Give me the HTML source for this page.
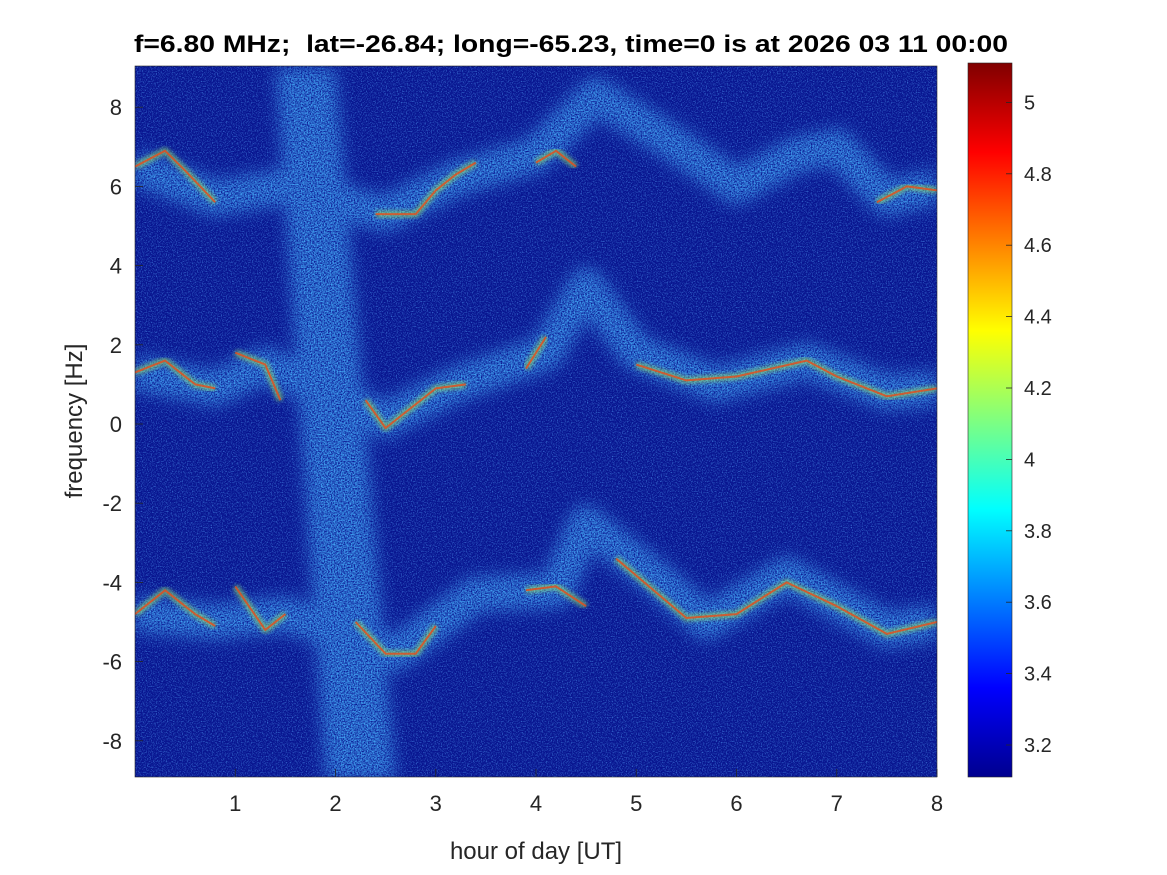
<!DOCTYPE html>
<html><head><meta charset="utf-8">
<style>
html,body{margin:0;padding:0;background:#fff;}
svg{display:block;font-family:"Liberation Sans",Arial,sans-serif;}
</style></head>
<body>
<svg id="chart" width="1167" height="875" viewBox="0 0 1167 875" xmlns="http://www.w3.org/2000/svg">
<defs>
<filter id="blur8" x="-20%" y="-20%" width="140%" height="140%">
<feGaussianBlur in="SourceGraphic" stdDeviation="8" result="b"/>
<feTurbulence type="fractalNoise" baseFrequency="0.7" numOctaves="2" seed="7" result="t"/>
<feColorMatrix in="t" values="0 0 0 0 1  0 0 0 0 1  0 0 0 0 1  0 0 0 2.2 -0.6" result="tm"/>
<feComposite in="b" in2="tm" operator="in"/>
</filter>
<filter id="blur3"><feGaussianBlur stdDeviation="2"/></filter>
<filter id="noise" x="0" y="0" width="100%" height="100%">
<feTurbulence type="fractalNoise" baseFrequency="0.8" numOctaves="2" seed="3"/>
<feColorMatrix values="0 0 0 0 0.1  0 0 0 0 0.4  0 0 0 0 1  0 0 0 1.6 -0.75"/>
</filter>
<clipPath id="plotclip"><rect x="135" y="66" width="802" height="711"/></clipPath>
<linearGradient id="jet" x1="0" y1="1" x2="0" y2="0">
<stop offset="0" stop-color="#00008f"/><stop offset="0.125" stop-color="#0000ff"/>
<stop offset="0.375" stop-color="#00ffff"/><stop offset="0.625" stop-color="#ffff00"/>
<stop offset="0.875" stop-color="#ff0000"/><stop offset="1" stop-color="#800000"/>
</linearGradient>
</defs>
<g id="plot" clip-path="url(#plotclip)">
<rect x="135" y="66" width="802" height="711" fill="#081590"/>
<rect x="135" y="66" width="802" height="711" filter="url(#noise)"/>
<g id="diffuse" filter="url(#blur8)"></g>
<g id="ridges"></g>
</g>
<rect x="135" y="66" width="802" height="711" fill="none" stroke="#262626" stroke-width="0.6"/>
<g id="xticks"></g><g id="yticks"></g>
<text x="571" y="52" text-anchor="middle" font-size="24" font-weight="bold" fill="#000" textLength="874" lengthAdjust="spacingAndGlyphs" xml:space="preserve">f=6.80 MHz;  lat=-26.84; long=-65.23, time=0 is at 2026 03 11 00:00</text>
<text x="536" y="859" text-anchor="middle" font-size="24" fill="#262626">hour of day [UT]</text>
<text transform="translate(82,421) rotate(-90)" text-anchor="middle" font-size="24" fill="#262626">frequency [Hz]</text>
<rect x="968" y="63" width="44" height="714" fill="url(#jet)" stroke="#262626" stroke-width="0.6"/>
<g id="cticks"></g>
</svg>
<script>
const xTicks=[1,2,3,4,5,6,7,8];
const yTicks=[-8,-6,-4,-2,0,2,4,6,8];
const cTicks=[3.2,3.4,3.6,3.8,4,4.2,4.4,4.6,4.8,5];
const ridgeTop=[[0,6.5],[0.3,6.9],[0.5,6.4],[0.8,5.6]];
const ridgeTop2=[[2.4,5.3],[2.8,5.3],[3.0,5.9],[3.2,6.3],[3.4,6.6]];
const ridgeTop3=[[4.0,6.6],[4.2,6.9],[4.4,6.5]];
const ridgeTop4=[[7.4,5.6],[7.7,6.0],[8,5.9]];
const ridgeMid=[[0,1.3],[0.3,1.6],[0.6,1.0],[0.8,0.9]];
const ridgeMid2=[[1.0,1.8],[1.3,1.5],[1.45,0.6]];
const ridgeMid3=[[2.3,0.6],[2.5,-0.1],[2.7,0.3],[3.0,0.9],[3.3,1.0]];
const ridgeMid4=[[3.9,1.4],[4.1,2.2]];
const ridgeMid5=[[5.0,1.5],[5.5,1.1],[6.0,1.2],[6.7,1.6],[7.0,1.2],[7.5,0.7],[8,0.9]];
const ridgeLow=[[0,-4.8],[0.3,-4.2],[0.6,-4.8],[0.8,-5.1]];
const ridgeLow2=[[1.0,-4.1],[1.3,-5.2],[1.5,-4.8]];
const ridgeLow3=[[2.2,-5.0],[2.5,-5.8],[2.8,-5.8],[3.0,-5.1]];
const ridgeLow4=[[3.9,-4.2],[4.2,-4.1],[4.5,-4.6]];
const ridgeLow5=[[4.8,-3.4],[5.5,-4.9],[6.0,-4.8],[6.5,-4.0],[7.0,-4.6],[7.5,-5.3],[8,-5.0]];
const diffTop=[[0,6.5],[0.8,5.7],[1.5,6],[2.5,5.3],[3.2,6.2],[4.0,6.8],[4.6,8.3],[5.3,7.2],[6.0,6.0],[6.6,6.8],[7.0,7.0],[7.5,5.7],[8,6]];
const diffMid=[[0,1.3],[0.8,0.9],[1.3,1.5],[2.5,0.1],[3.2,1.0],[4.1,1.8],[4.5,3.5],[5.0,1.8],[5.8,1.0],[6.7,1.6],[7.5,0.8],[8,0.9]];
const diffLow=[[0,-4.8],[0.8,-5.0],[1.5,-4.8],[2.6,-5.8],[3.4,-4.3],[4.2,-4.2],[4.5,-2.5],[5.2,-3.9],[5.7,-5.0],[6.5,-3.8],[7.5,-5.2],[8,-5]];
const stripe=[[1.4,9],[2.0,9],[2.6,-9],[1.9,-9]];
const NS="http://www.w3.org/2000/svg";
const X=t=>135+t*100.25, Y=f=>424-f*39.6, C=v=>745-(v-3.2)/0.2*71.4;
function mk(tag,attrs,parent){const e=document.createElementNS(NS,tag);for(const k in attrs)e.setAttribute(k,attrs[k]);parent.appendChild(e);return e;}
const pts=a=>a.map(p=>X(p[0]).toFixed(1)+','+Y(p[1]).toFixed(1)).join(' ');
const dg=document.getElementById('diffuse');
let sp=mk('polygon',{points:pts(stripe),fill:'#40a0f0'},dg);


[[diffTop,'diffuse-top'],[diffMid,'diffuse-mid'],[diffLow,'diffuse-low']].forEach(([a,n])=>{
 const e=mk('polyline',{points:pts(a),fill:'none',stroke:'#40a0f0','stroke-width':36,'stroke-linejoin':'round'},dg);
 
 
});
const rg=document.getElementById('ridges');
[ridgeTop,ridgeTop2,ridgeTop3,ridgeTop4,ridgeMid,ridgeMid2,ridgeMid3,ridgeMid4,ridgeMid5,ridgeLow,ridgeLow2,ridgeLow3,ridgeLow4,ridgeLow5].forEach((a,i)=>{
 const g=mk('polyline',{points:pts(a),fill:'none',stroke:'#8ee070','stroke-width':7,'stroke-linejoin':'round',opacity:0.6,filter:'url(#blur3)'},rg);
 
 
 const e=mk('polyline',{points:pts(a),fill:'none',stroke:'#e84a1a','stroke-width':2,'stroke-linejoin':'round',opacity:0.8},rg);
 
 
});
const xg=document.getElementById('xticks');
xTicks.forEach(t=>{
 mk('line',{x1:X(t),x2:X(t),y1:777,y2:769,stroke:'#262626','stroke-width':0.8},xg);
 const e=mk('text',{x:X(t),y:811,'text-anchor':'middle','font-size':22,fill:'#262626'},xg);e.textContent=t;
 
 
});
const yg=document.getElementById('yticks');
yTicks.forEach(f=>{
 mk('line',{x1:135,x2:143,y1:Y(f),y2:Y(f),stroke:'#262626','stroke-width':0.8},yg);
 const e=mk('text',{x:122,y:Y(f)+8,'text-anchor':'end','font-size':22,fill:'#262626'},yg);e.textContent=f;
 
 
});
const cg=document.getElementById('cticks');
cTicks.forEach(v=>{
 mk('line',{x1:1012,x2:1006,y1:C(v),y2:C(v),stroke:'#262626','stroke-width':0.8},cg);
 const e=mk('text',{x:1024,y:C(v)+7,'font-size':20,fill:'#262626'},cg);e.textContent=v;
 
 
});
</script>
</body></html>
